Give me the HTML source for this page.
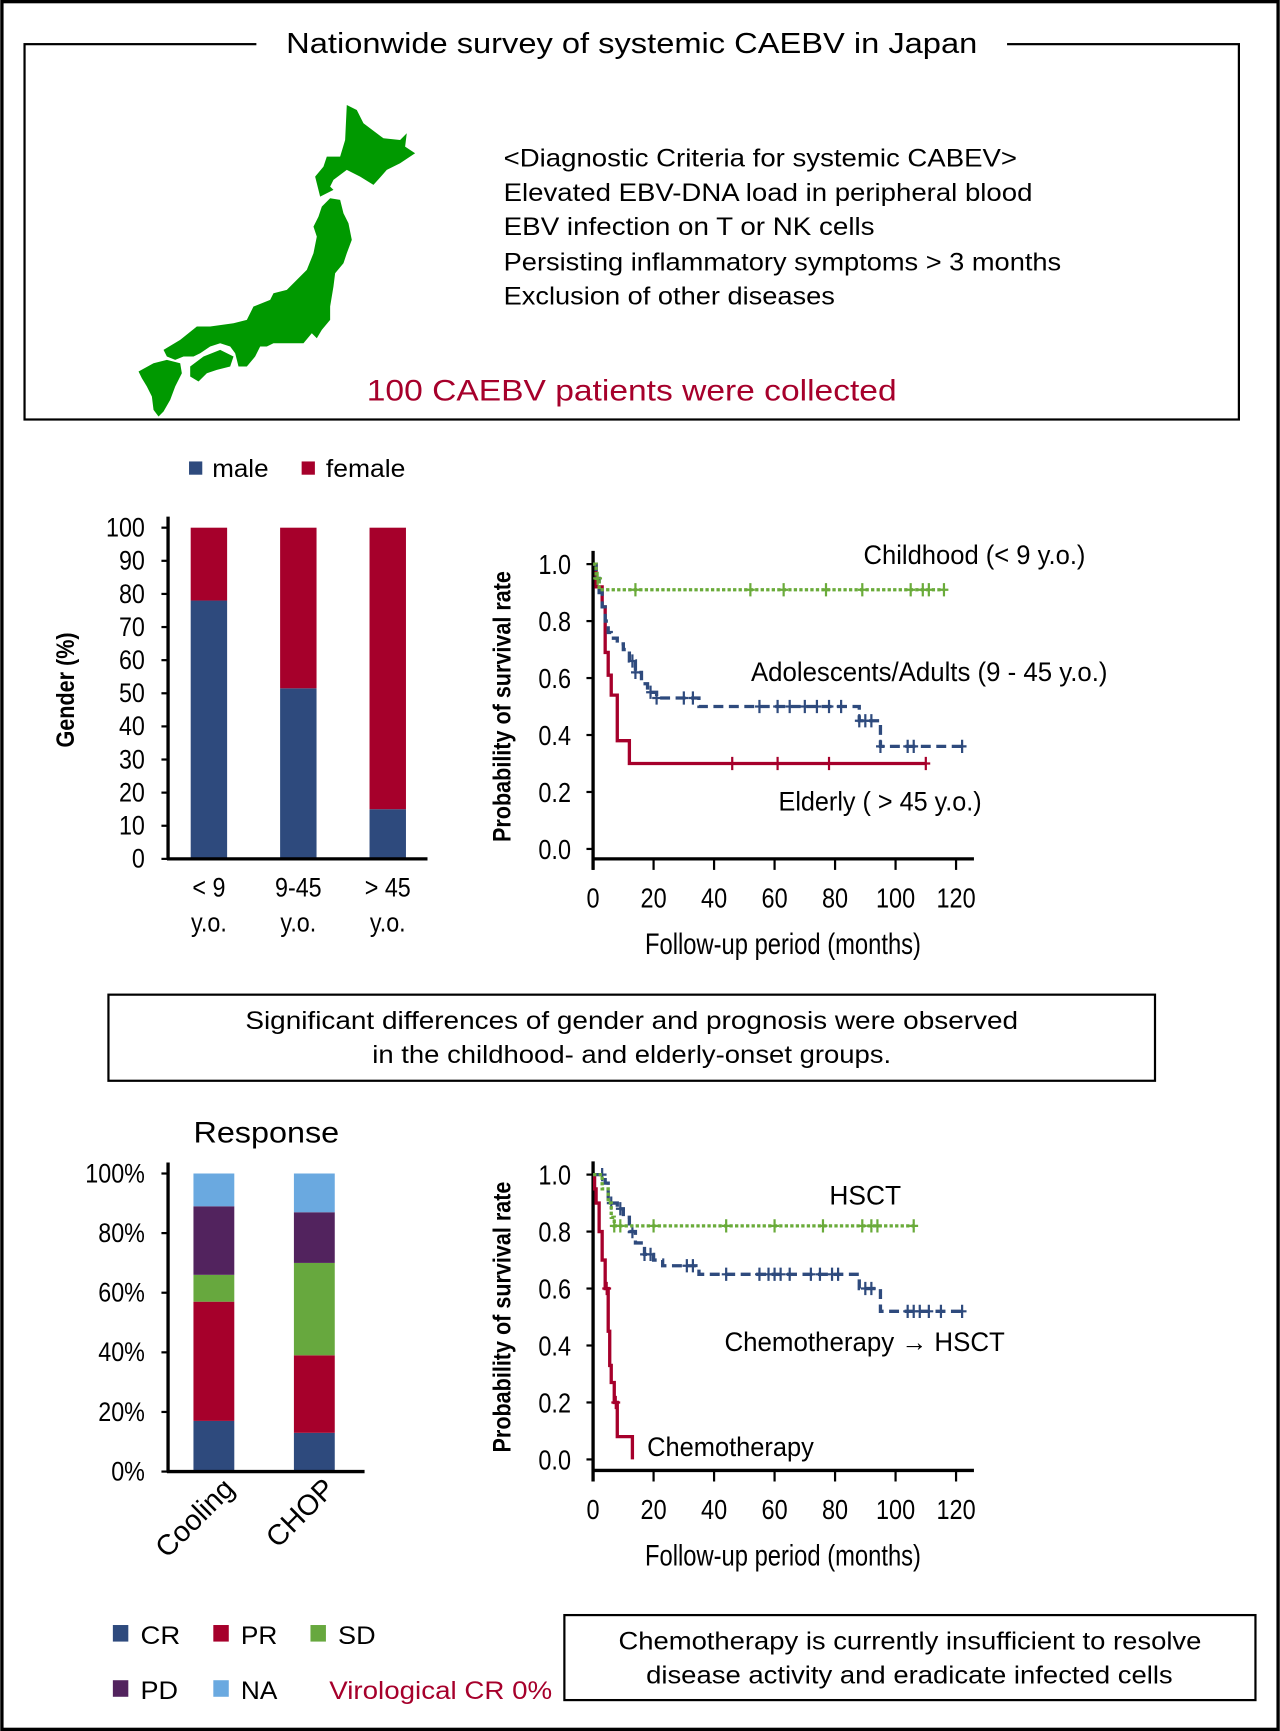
<!DOCTYPE html>
<html><head><meta charset="utf-8"><style>
html,body{margin:0;padding:0;background:#fff;}
svg{display:block;font-family:"Liberation Sans",sans-serif;}
</style></head><body>
<svg id="s" width="1280" height="1731" viewBox="0 0 1159 1568" xmlns="http://www.w3.org/2000/svg">
<rect x="1.5" y="1.5" width="1156" height="1565" fill="#fff" stroke="#000" stroke-width="3"/>
<g>
<rect x="22" y="40" width="1100" height="340" fill="none" stroke="#000" stroke-width="2"/>
<rect x="232" y="25" width="680" height="30" fill="#fff"/>
<text x="259" y="48" font-size="26" textLength="626" lengthAdjust="spacingAndGlyphs">Nationwide survey of systemic CAEBV in Japan</text>
<g fill="#009900" transform="scale(0.9055) translate(100,80) scale(0.33333)">
<polygon points="740,75 770,90 790,130 850,175 900,180 920,160 915,200 945,220 900,250 860,270 820,315 780,290 740,270 700,300 690,320 700,330 660,350 645,290 670,260 680,230 720,230 735,180"/>
<polygon points="690,355 720,360 730,400 745,430 755,480 740,520 730,550 705,580 700,620 690,680 690,720 665,750 650,775 635,760 610,790 570,790 520,790 500,800 480,800 465,830 440,860 415,860 405,820 390,800 360,790 330,800 300,820 280,830 250,830 225,840 200,830 190,810 240,780 290,740 330,740 400,730 440,720 460,680 510,660 520,640 560,630 590,600 620,570 640,520 650,470 640,440 655,410 665,380"/>
<polygon points="270,860 310,830 360,810 400,830 390,860 350,870 320,880 295,905 270,890"/>
<polygon points="115,875 160,850 200,840 240,850 245,880 225,920 210,960 190,995 175,1010 160,990 155,950 140,920 125,895"/>
</g>
<g font-size="23">
<text x="456" y="151" textLength="465" lengthAdjust="spacingAndGlyphs">&lt;Diagnostic Criteria for systemic CABEV&gt;</text>
<text x="456" y="182" textLength="479" lengthAdjust="spacingAndGlyphs">Elevated EBV-DNA load in peripheral blood</text>
<text x="456" y="213" textLength="336" lengthAdjust="spacingAndGlyphs">EBV infection on T or NK cells</text>
<text x="456" y="245" textLength="505" lengthAdjust="spacingAndGlyphs">Persisting inflammatory symptoms &gt; 3 months</text>
<text x="456" y="276" textLength="300" lengthAdjust="spacingAndGlyphs">Exclusion of other diseases</text>
</g>
<text x="332" y="363" font-size="27" fill="#a6002b" textLength="480" lengthAdjust="spacingAndGlyphs">100 CAEBV patients were collected</text>
</g>
<g>
<rect x="171" y="418" width="12" height="12" fill="#2e4a7d"/><text x="192" y="432" font-size="23" textLength="51" lengthAdjust="spacingAndGlyphs">male</text>
<rect x="273" y="418" width="12" height="12" fill="#a6002b"/><text x="295" y="432" font-size="23" textLength="72" lengthAdjust="spacingAndGlyphs">female</text>
</g>
<g id="bar1"></g>
<g id="km1"></g>
<g>
<rect x="98" y="901" width="948" height="78" fill="none" stroke="#000" stroke-width="2"/>
<text x="222" y="932" font-size="23" textLength="700" lengthAdjust="spacingAndGlyphs">Significant differences  of gender and prognosis were observed</text>
<text x="337" y="963" font-size="23" textLength="470" lengthAdjust="spacingAndGlyphs">in the childhood- and elderly-onset groups.</text>
</g>
<text x="175" y="1035" font-size="27" textLength="132" lengthAdjust="spacingAndGlyphs">Response</text>
<g id="bar2"></g>
<g id="km2"></g>
<g font-size="23">
<rect x="102" y="1472" width="14" height="15" fill="#2e4a7d"/><text x="127" y="1489" textLength="36" lengthAdjust="spacingAndGlyphs">CR</text>
<rect x="193" y="1472" width="14" height="15" fill="#a6002b"/><text x="218" y="1489" textLength="33" lengthAdjust="spacingAndGlyphs">PR</text>
<rect x="281" y="1472" width="14" height="15" fill="#67a83e"/><text x="306" y="1489" textLength="34" lengthAdjust="spacingAndGlyphs">SD</text>
<rect x="102" y="1522" width="14" height="15" fill="#52235e"/><text x="127" y="1539" textLength="34" lengthAdjust="spacingAndGlyphs">PD</text>
<rect x="193" y="1522" width="14" height="15" fill="#6aa9e0"/><text x="218" y="1539" textLength="33" lengthAdjust="spacingAndGlyphs">NA</text>
<text x="298" y="1539" fill="#a6002b" textLength="202" lengthAdjust="spacingAndGlyphs">Virological CR 0%</text>
</g>
<g>
<rect x="511" y="1463" width="626" height="77" fill="none" stroke="#000" stroke-width="2"/>
<text x="560" y="1494" font-size="23" textLength="528" lengthAdjust="spacingAndGlyphs">Chemotherapy is currently insufficient to resolve</text>
<text x="585" y="1525" font-size="23" textLength="477" lengthAdjust="spacingAndGlyphs">disease activity and eradicate infected cells</text>
</g>
</svg>
<script>
// ---- data ----
const genderCats = ["< 9|y.o.", "9-45|y.o.", "> 45|y.o."];
const maleVals = [78, 51.5, 15];
const femaleVals = [22, 48.5, 85];
const genderTicks = [0,10,20,30,40,50,60,70,80,90,100];

const respCats = ["Cooling", "CHOP"];
const crVals = [17, 13];
const prVals = [40, 26];
const sdVals = [9, 31];
const pdVals = [23, 17];
const naVals = [11, 13];
const respTicks = [0,20,40,60,80,100];

const kmXTicks = [0,20,40,60,80,100,120];
const kmYTicks = [0,0.2,0.4,0.6,0.8,1.0];

const childT = [0, 1, 2, 116];
const childS = [1.0, 0.95, 0.91, 0.91];
const childCens = [1.5, 14, 52, 63, 77, 89, 105, 109, 111, 116];
const adultT = [0, 1, 2, 3, 4, 5, 6, 8, 10, 12, 14, 16, 18, 21, 35, 88, 95, 122];
const adultS = [1.0, 0.95, 0.9, 0.85, 0.8, 0.76, 0.74, 0.72, 0.7, 0.66, 0.62, 0.58, 0.55, 0.53, 0.5, 0.45, 0.36, 0.36];
const adultCens = [13, 14, 19, 21, 30, 33, 55, 61, 65, 70, 74, 78, 82, 88, 90, 92, 95, 104, 106, 122];
const elderT = [0, 1, 3, 4, 5, 6, 8, 12, 110];
const elderS = [1.0, 0.92, 0.85, 0.69, 0.61, 0.54, 0.38, 0.30, 0.30];
const elderCens = [46, 61, 78, 110];

const hsctT = [0, 3, 5, 6, 7, 106];
const hsctS = [1.0, 0.95, 0.9, 0.85, 0.82, 0.82];
const hsctCens = [7, 9, 20, 44, 60, 76, 89, 92, 94, 106];
const chT = [0, 4, 5, 8, 10, 12, 14, 17, 20, 23, 34, 35, 88, 95, 123];
const chS = [1.0, 0.97, 0.9, 0.88, 0.85, 0.8, 0.76, 0.72, 0.7, 0.68, 0.67, 0.65, 0.6, 0.52, 0.52];
const chCens = [3, 6, 9, 13, 17, 19, 31, 33, 44, 55, 58, 60, 62, 65, 72, 75, 79, 81, 90, 92, 104, 106, 108, 111, 115, 122];
const chemoT = [0, 0.5, 1, 2, 3, 4, 5, 5.5, 6, 7, 8, 13, 13];
const chemoS = [1.0, 0.95, 0.9, 0.8, 0.7, 0.6, 0.45, 0.33, 0.27, 0.2, 0.08, 0.08, 0.0];
const chemoCens = [4.5, 7.5];

// ---- helpers ----
const NS = "http://www.w3.org/2000/svg";
function mk(parent, tag, attrs, text) {
  const el = document.createElementNS(NS, tag);
  for (const k in attrs) el.setAttribute(k, attrs[k]);
  if (text !== undefined) el.textContent = text;
  parent.appendChild(el);
  return el;
}
function ctext(parent, x, y, str, size, anchor, sx, w) {
  const g = mk(parent, "g", {transform: `translate(${x},${y}) scale(${sx},1)`});
  const a = {x: 0, y: 0, "font-size": size, "text-anchor": anchor};
  if (w) { a.textLength = w / sx; a.lengthAdjust = "spacingAndGlyphs"; }
  return mk(g, "text", a, str);
}

// ---- bar chart 1 ----
(function(){
  const g = document.getElementById("bar1");
  const y = v => 778 - v * 3.0;
  const xs = [189, 270, 351], bw = 33;
  genderTicks.forEach(v => {
    mk(g, "line", {x1: 146, x2: 152, y1: y(v), y2: y(v), stroke: "#000", "stroke-width": 2});
    const t = ctext(g, 131, y(v) + 8, String(v), 24, "end", 0.88);
    
    
  });
  genderCats.forEach((c, i) => {
    const m = mk(g, "rect", {x: xs[i] - bw/2, y: y(maleVals[i]), width: bw, height: maleVals[i]*3, fill: "#2e4a7d"});
    
    
    const f = mk(g, "rect", {x: xs[i] - bw/2, y: y(maleVals[i] + femaleVals[i]), width: bw, height: femaleVals[i]*3, fill: "#a6002b"});
    
    
    const p = c.split("|");
    const l1 = ctext(g, xs[i], 812, p[0], 24, "middle", 0.88);
    
    
    ctext(g, xs[i], 844, p[1], 24, "middle", 0.88);
  });
  mk(g, "line", {x1: 152, x2: 152, y1: 468, y2: 779, stroke: "#000", "stroke-width": 3});
  mk(g, "line", {x1: 151, x2: 387, y1: 778, y2: 778, stroke: "#000", "stroke-width": 3});
  const tt = mk(g, "text", {x: 0, y: 0, "font-size": 23, "font-weight": "bold", "text-anchor": "middle", transform: "translate(67,625) rotate(-90) scale(0.85,1)"}, "Gender (%)");
  
  
})();

// ---- bar chart 2 ----
(function(){
  const g = document.getElementById("bar2");
  const y = v => 1333 - v * 2.7;
  const xs = [193.5, 284.5], bw = 37;
  const cols = ["#2e4a7d","#a6002b","#67a83e","#52235e","#6aa9e0"];
  const names = ["cr","pr","sd","pd","na"];
  const series = [crVals, prVals, sdVals, pdVals, naVals];
  respTicks.forEach(v => {
    mk(g, "line", {x1: 146, x2: 152, y1: y(v), y2: y(v), stroke: "#000", "stroke-width": 2});
    const t = ctext(g, 131, y(v) + 8, v + "%", 24, "end", 0.88);
    
    
  });
  respCats.forEach((c, i) => {
    let acc = 0;
    series.forEach((s, k) => {
      const r = mk(g, "rect", {x: xs[i] - bw/2, y: y(acc + s[i]), width: bw, height: s[i] * 2.7, fill: cols[k]});
      
      
      acc += s[i];
    });
    const l = mk(g, "text", {x: 0, y: 0, "font-size": 26, "text-anchor": "end", transform: `translate(${xs[i]+20},${1350}) rotate(-45)`}, c);
    
    
  });
  mk(g, "line", {x1: 152, x2: 152, y1: 1053, y2: 1334, stroke: "#000", "stroke-width": 3});
  mk(g, "line", {x1: 151, x2: 330, y1: 1333, y2: 1333, stroke: "#000", "stroke-width": 3});
})();

// ---- KM charts ----
function km(gid, yTop, yBot, axisY, curves, labels) {
  const g = document.getElementById(gid);
  const x = t => 537 + t * 54.8 / 20;
  const y = s => yBot - s * (yBot - yTop);
  kmYTicks.forEach(v => {
    mk(g, "line", {x1: 531, x2: 537, y1: y(v), y2: y(v), stroke: "#000", "stroke-width": 2});
    const t = ctext(g, 517, y(v) + 9, v.toFixed(1), 25, "end", 0.85);
    
    
  });
  kmXTicks.forEach(v => {
    mk(g, "line", {x1: x(v), x2: x(v), y1: axisY, y2: axisY + 10, stroke: "#000", "stroke-width": 2});
    const t = ctext(g, x(v), axisY + 44, String(v), 25, "middle", 0.85);
    
    
  });
  mk(g, "line", {x1: 537, x2: 537, y1: yTop - 12, y2: axisY + 10, stroke: "#000", "stroke-width": 3});
  mk(g, "line", {x1: 536, x2: 882, y1: axisY, y2: axisY, stroke: "#000", "stroke-width": 3});
  curves.forEach(c => {
    let d = `M${x(c.t[0])},${y(c.s[0])}`;
    for (let i = 1; i < c.t.length; i++) {
      d += ` H${x(c.t[i])} V${y(c.s[i])}`;
    }
    const p = mk(g, "path", {d: d, fill: "none", stroke: c.col, "stroke-width": c.w, "stroke-dasharray": c.dash});
    
    
    c.cens.forEach(t => {
      let sv = c.s[0];
      for (let i = 0; i < c.t.length; i++) if (c.t[i] <= t) sv = c.s[i];
      const m = mk(g, "path", {d: `M${x(t)-4},${y(sv)} H${x(t)+4} M${x(t)},${y(sv)-6} V${y(sv)+6}`, stroke: c.col, "stroke-width": 2, fill: "none"});
      
      
    });
  });
  labels.forEach(l => {
    const t = ctext(g, l[0], l[1], l[2], 24, "start", 0.85, l[3]);
    
    
  });
  const yt = mk(g, "text", {x: 0, y: 0, "font-size": 23, "font-weight": "bold", "text-anchor": "middle", transform: `translate(462,${(yTop+yBot)/2}) rotate(-90) scale(0.85,1)`}, "Probability of survival rate");
  
  
  const xt = ctext(g, 584, axisY + 86, "Follow-up period (months)", 27, "start", 0.78, 250);
  
  
}
km("km1", 511, 769, 778, [
  {name: "elderly", t: elderT, s: elderS, cens: elderCens, col: "#a6002b", w: 3, dash: "none"},
  {name: "adolescent-adult", t: adultT, s: adultS, cens: adultCens, col: "#2e4a7d", w: 3, dash: "9,5"},
  {name: "childhood", t: childT, s: childS, cens: childCens, col: "#6aab3a", w: 3, dash: "3,2"}
], [[782, 511, "Childhood (< 9 y.o.)", 201], [680, 617, "Adolescents/Adults (9 - 45 y.o.)", 323], [705, 734, "Elderly ( > 45 y.o.)", 184]]);
km("km2", 1064, 1322, 1332, [
  {name: "chemotherapy", t: chemoT, s: chemoS, cens: chemoCens, col: "#a6002b", w: 3, dash: "none"},
  {name: "chemo-hsct", t: chT, s: chS, cens: chCens, col: "#2e4a7d", w: 3, dash: "9,5"},
  {name: "hsct", t: hsctT, s: hsctS, cens: hsctCens, col: "#6aab3a", w: 3, dash: "3,2"}
], [[751, 1091, "HSCT", 65], [656, 1224, "Chemotherapy \u2192 HSCT", 254], [586, 1319, "Chemotherapy", 151]]);
</script>
</body></html>
